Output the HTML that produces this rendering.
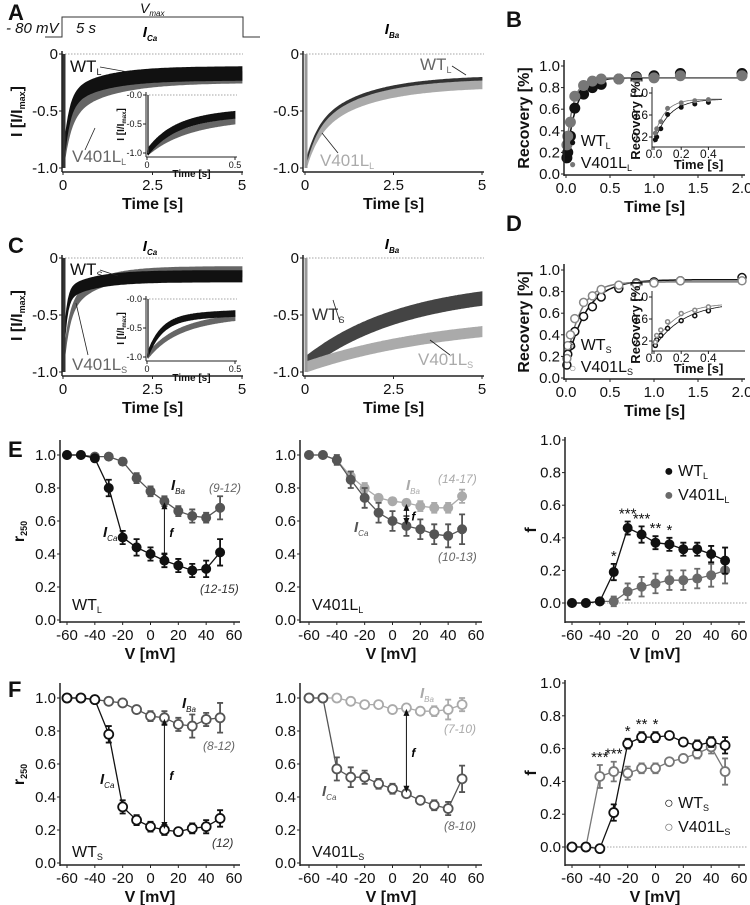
<!DOCTYPE html>
<html><head><meta charset="utf-8">
<style>
html,body{margin:0;padding:0;background:#fff;}
svg{display:block;font-family:"Liberation Sans",sans-serif;}
.tk{font-size:15px;fill:#111;}
.tks{font-size:9px;fill:#111;}
.tkm{font-size:12px;fill:#111;}
.ttl{font-size:16px;font-weight:bold;fill:#111;}
.ttls{font-size:10px;font-weight:bold;fill:#111;}
.ttlm{font-size:13px;font-weight:bold;fill:#111;}
.pl{font-size:22px;font-weight:bold;fill:#111;}
.ann{font-size:12px;font-style:italic;}
</style></head><body>
<svg id="fig" width="750" height="905" viewBox="0 0 750 905" xmlns="http://www.w3.org/2000/svg">
<g>
<polyline points="45,37 62,37 62,17 243,17 243,37 260,37" fill="none" stroke="#333" stroke-width="1"/>
<text x="6" y="33" font-size="15" font-style="italic" fill="#111">- 80 mV</text>
<text x="76" y="33" font-size="15" font-style="italic" fill="#111">5 s</text>
<text x="140" y="13" font-size="14" font-style="italic" fill="#111">V<tspan font-size="8" dy="3">max</tspan></text>
</g>
</svg>
<script>
// ---------- data ----------
const voltages=[-60,-50,-40,-30,-20,-10,0,10,20,30,40,50];
const eWtBa=[1.0,1.0,0.99,0.99,0.96,0.86,0.78,0.72,0.66,0.63,0.62,0.68];
const eWtBaErr=[0.01,0.01,0.01,0.01,0.02,0.03,0.03,0.03,0.03,0.04,0.03,0.07];
const eWtCa=[1.0,1.0,0.98,0.80,0.50,0.44,0.40,0.36,0.33,0.30,0.31,0.41];
const eWtCaErr=[0.01,0.01,0.01,0.05,0.04,0.05,0.04,0.04,0.04,0.04,0.05,0.08];
const eMuBa=[1.0,1.0,0.97,0.87,0.80,0.74,0.72,0.71,0.69,0.68,0.68,0.75];
const eMuBaErr=[0.01,0.01,0.02,0.03,0.03,0.02,0.02,0.02,0.03,0.03,0.03,0.04];
const eMuCa=[1.0,1.0,0.97,0.85,0.74,0.65,0.60,0.57,0.55,0.52,0.51,0.55];
const eMuCaErr=[0.01,0.01,0.03,0.05,0.06,0.06,0.06,0.06,0.06,0.06,0.07,0.09];
const eFWt=[0,0,0.01,0.19,0.46,0.42,0.37,0.36,0.33,0.33,0.30,0.26];
const eFWtErr=[0.01,0.01,0.02,0.05,0.04,0.05,0.04,0.04,0.04,0.04,0.05,0.08];
const eFMu=[0,0,0.01,0.01,0.07,0.10,0.12,0.14,0.14,0.15,0.17,0.20];
const eFMuErr=[0.01,0.01,0.02,0.03,0.05,0.06,0.06,0.06,0.06,0.06,0.07,0.08];
const eStars=["","","","*","***","***","**","*","","","",""];
const fWtBa=[1.0,1.0,0.99,0.98,0.97,0.93,0.89,0.88,0.84,0.83,0.87,0.88];
const fWtBaErr=[0.01,0.01,0.01,0.02,0.01,0.02,0.03,0.04,0.04,0.07,0.04,0.09];
const fWtCa=[1.0,1.0,0.99,0.78,0.34,0.26,0.22,0.20,0.19,0.21,0.22,0.27];
const fWtCaErr=[0.01,0.01,0.01,0.05,0.04,0.03,0.03,0.03,0.02,0.03,0.04,0.05];
const fMuBa=[1.0,1.0,1.0,0.98,0.96,0.96,0.93,0.94,0.92,0.92,0.93,0.96];
const fMuBaErr=[0.01,0.01,0.01,0.02,0.01,0.01,0.01,0.02,0.02,0.03,0.06,0.04];
const fMuCa=[1.0,1.0,0.57,0.52,0.52,0.48,0.45,0.42,0.38,0.35,0.33,0.51];
const fMuCaErr=[0.01,0.01,0.07,0.06,0.04,0.03,0.03,0.02,0.02,0.03,0.04,0.08];
const fFWt=[0,0,-0.01,0.21,0.63,0.67,0.67,0.68,0.64,0.62,0.64,0.62];
const fFWtErr=[0.01,0.01,0.01,0.05,0.03,0.03,0.03,0.02,0.02,0.03,0.03,0.05];
const fFMu=[0,0,0.43,0.46,0.45,0.48,0.48,0.52,0.54,0.57,0.61,0.46];
const fFMuErr=[0.01,0.01,0.07,0.06,0.04,0.03,0.03,0.02,0.02,0.03,0.04,0.08];
const fStars=["","","***","***","*","**","*","","","","",""];
const recTimes=[0.01,0.02,0.05,0.1,0.2,0.3,0.4,0.6,0.8,1.0,1.3,2.0];
const recWtL=[0.15,0.20,0.35,0.61,0.74,0.80,0.83,0.88,0.90,0.91,0.93,0.93];
const recMuL=[0.27,0.35,0.48,0.72,0.82,0.86,0.88,0.88,0.89,0.89,0.91,0.91];
const recWtS=[0.12,0.22,0.30,0.43,0.57,0.66,0.75,0.83,0.88,0.89,0.90,0.93];
const recMuS=[0.18,0.30,0.40,0.55,0.70,0.76,0.82,0.86,0.87,0.88,0.90,0.90];
// fit params [plateau, start, tau]
const fitWtL=[0.89,0.10,0.11];const fitMuL=[0.89,0.20,0.08];
const fitWtS=[0.91,0.08,0.22];const fitMuS=[0.89,0.12,0.16];
// trace params [steady, fastFrac, tauFast, tauSlow, halfWidth, start]
const trAWt=[0.17,0.7,0.15,1.0,0.06,1.0];const trAMu=[0.2,0.6,0.2,1.2,0.05,1.0];
const trABaWt=[0.2,0.4,0.3,1.5,0.012,1.0];const trABaMu=[0.24,0.4,0.35,1.6,0.045,1.0];
const trCWt=[0.16,0.8,0.08,0.8,0.05,1.0];const trCMu=[0.12,0.6,0.15,0.8,0.045,1.0];
const trCBaWt=[0.24,0.0,0.1,2.8,0.06,0.93];const trCBaMu=[0.52,0.0,0.1,4.0,0.045,0.96];
const tickV=[-60,-40,-20,0,20,40,60];
const tickR=[0,0.2,0.4,0.6,0.8,1.0];
// ---------- helpers ----------
const NS="http://www.w3.org/2000/svg";const fig=document.getElementById('fig');
function mk(tag,at,par){const e=document.createElementNS(NS,tag);for(const k in at)e.setAttribute(k,at[k]);(par||fig).appendChild(e);return e;}
function txt(s,x,y,cls,anchor,par,extra){const e=mk('text',Object.assign({x:x,y:y,'class':cls,'text-anchor':anchor||'middle'},extra||{}),par);e.innerHTML=s;return e;}
function lin(a,b,c,d){return (v)=>c+(v-a)*(d-c)/(b-a);}
function axes(g,o){
  const X=o.X,Y=o.Y;
  const tc=o.tkc||(o.small?'tks':'tk'),ttc=o.ttc||(o.small?'ttls':'ttl');
  const dyY=o.dyY||(o.small?3:5),dyX=o.dyX||(o.small?11:18),dyT=o.dyT||(o.small?20:37);
  let e=mk('line',{x1:o.ax,y1:o.yTop,x2:o.ax,y2:o.yBot,stroke:'#222','stroke-width':o.sw||1.5},g);
  
  
  e=mk('line',{x1:o.ax,y1:o.xAxY,x2:o.xEnd,y2:o.xAxY,stroke:'#222','stroke-width':o.sw||1.5},g);
  
  
  o.yt.forEach((v,i)=>{mk('line',{x1:o.ax-3,y1:Y(v),x2:o.ax,y2:Y(v),stroke:'#222'},g);
    const t=txt(o.ytl[i],o.ax-4,Y(v)+dyY,tc,'end',g);
    
    });
  o.xt.forEach((v,i)=>{mk('line',{x1:X(v),y1:o.xAxY,x2:X(v),y2:o.xAxY+3,stroke:'#222'},g);
    const t=txt(o.xtl[i],X(v),o.xAxY+dyX,tc,'middle',g);
    
    });
  if(o.xtitle){const t=txt(o.xtitle,(o.ax+o.xEnd)/2,o.xAxY+dyT,ttc,'middle',g);
    
    }
  if(o.ytitle){const yc=(o.yTop+o.yBot)/2;const t=txt(o.ytitle,o.ytx,yc,ttc,'middle',g,{transform:'rotate(-90 '+o.ytx+' '+yc+')'});
    
    }
}
function trVal(p,t){return -(p[0]+(p[5]-p[0])*(p[1]*Math.exp(-t/p[2])+(1-p[1])*Math.exp(-t/p[3])));}
function band(g,p,X,Y,tmax,col,name){
  const up=[],dn=[];const n=120;
  for(let i=0;i<=n;i++){const t=0.02*tmax/5+i*(tmax-0.02*tmax/5)/n;const v=trVal(p,t);const w=p[4]*(i==0?0.3:1);
    up.push(X(t).toFixed(1)+','+Y(v+w).toFixed(1));dn.unshift(X(t).toFixed(1)+','+Y(v-w).toFixed(1));}
  const e=mk('polygon',{points:up.concat(dn).join(' '),fill:col,stroke:col,'stroke-width':0.8},g);
  
  
}
function tracePanel(o){
  const g=mk('g',{});
  
  
  const X=lin(0,o.tmax,o.x0,o.x1),Y=lin(0,-1,o.y0,o.y1);
  mk('line',{x1:o.ax,y1:o.y0,x2:o.xEnd,y2:o.y0,stroke:'#888','stroke-dasharray':'1.5,1.5','stroke-width':0.8},g);
  o.traces.forEach(tr=>band(g,tr[0],X,Y,o.tmax,tr[1],tr[2]));
  mk('line',{x1:X(0)+1,y1:o.y0,x2:X(0)+1,y2:o.y1,stroke:o.spike,'stroke-width':o.small?1.5:3},g);
  axes(g,{X:X,Y:Y,ax:o.ax,yTop:o.y0-3,yBot:o.y1+4,xAxY:o.y1+4,xEnd:o.xEnd,yt:[0,-0.5,-1],ytl:o.small?['-0.0','-0.5','-1.0']:['0','-0.5','-1.0'],
    xt:o.small?[0,0.5]:[0,2.5,5],xtl:o.small?['0','0.5']:['0','2.5','5'],xtitle:'Time [s]',ytitle:o.ytitle,ytx:o.ytx,small:o.small,sw:o.small?1:1.5});
  return g;
}
function recPanel(o){
  const g=mk('g',{});
  
  
  const X=lin(0,o.tmax,o.x0,o.x1),Y=lin(0,1,o.y0,o.y1);
  o.fits.forEach(f=>{const pts=[];for(let i=0;i<=100;i++){const t=i*o.tmax/100;pts.push(X(t).toFixed(1)+','+Y(f[0][0]-(f[0][0]-f[0][1])*Math.exp(-t/f[0][2])).toFixed(1));}
    const e=mk('polyline',{points:pts.join(' '),fill:'none',stroke:f[1],'stroke-width':o.small?0.8:1.5},g);
    
    });
  o.series.forEach(s=>{recTimes.forEach((t,i)=>{if(t>o.tmax)return;
    const c=mk('circle',{cx:X(t),cy:Y(s[0][i]),r:o.small?2:(o.open?4:5),fill:o.open?'#fff':s[1],stroke:s[1],'stroke-width':o.open?1.5:1},g);
    
    });});
  axes(g,{X:X,Y:Y,ax:o.ax,yTop:o.y1-6,yBot:o.y0+2,xAxY:o.y0+(o.small?-1:1),xEnd:o.xEnd,yt:o.small?[0.2,0.6,1.0]:[0,0.2,0.4,0.6,0.8,1.0],ytl:o.small?['0.2','0.6','1.0']:['0.0','0.2','0.4','0.6','0.8','1.0'],
    xt:o.small?[0,0.2,0.4]:[0,0.5,1,1.5,2],xtl:o.small?['0.0','0.2','0.4']:['0.0','0.5','1.0','1.5','2.0'],xtitle:'Time [s]',ytitle:'Recovery [%]',ytx:o.ytx,small:o.small,sw:o.small?1:1.5,
    tkc:o.small?'tkm':'tk',ttc:o.small?'ttlm':'ttl',dyY:o.small?4:5,dyX:o.small?11:18,dyT:o.small?22:37});
  return g;
}
function ivPanel(o){
  const g=mk('g',{});
  
  
  const X=lin(-60,60,o.x0,o.x1),Y=lin(0,1,o.y0,o.y1);
  if(o.dotted){mk('line',{x1:o.ax,y1:Y(0),x2:o.x1+8,y2:Y(0),stroke:'#888','stroke-dasharray':'1.5,1.5','stroke-width':0.8},g);}
  o.series.forEach(s=>{const vals=s[0],err=s[1],col=s[2];
    const pts=voltages.map((v,i)=>X(v).toFixed(1)+','+Y(vals[i]).toFixed(1)).join(' ');
    let e=mk('polyline',{points:pts,fill:'none',stroke:col,'stroke-width':1.3},g);
    
    
    voltages.forEach((v,i)=>{const x=X(v),yt=Y(vals[i]+err[i]),yb=Y(vals[i]-err[i]);
      mk('path',{d:'M'+x+','+yt+'V'+yb+'M'+(x-3)+','+yt+'h6M'+(x-3)+','+yb+'h6',stroke:col,'stroke-width':1.8,fill:'none'},g);
      const c=mk('circle',{cx:x,cy:Y(vals[i]),r:4.5,fill:o.open?'#fff':col,stroke:col,'stroke-width':o.open?1.8:1},g);
      
      });
  });
  if(o.stars){o.stars.forEach((st,i)=>{if(!st)return;const top=Math.max(o.starSrc[0][i]+o.starSrc[1][i],o.starAlt?o.starAlt[0][i]+o.starAlt[1][i]:0);
    const t=txt(st,X(voltages[i]),Y(top)-3,'tk','middle',g);
    
    });}
  if(o.arrow){const v=o.arrow[0],a=o.arrow[1],b=o.arrow[2];const x=X(v),ya=Y(a),yb=Y(b);
    mk('line',{x1:x,y1:ya+6,x2:x,y2:yb-6,stroke:'#111','stroke-width':1},g);
    mk('polygon',{points:x+','+(ya+1)+' '+(x-3)+','+(ya+8)+' '+(x+3)+','+(ya+8),fill:'#111'},g);
    mk('polygon',{points:x+','+(yb-1)+' '+(x-3)+','+(yb-8)+' '+(x+3)+','+(yb-8),fill:'#111'},g);
    const t=txt('f',x+5,(ya+yb)/2+6,'ann','start',g,{'font-size':'17','font-weight':'bold'});
    
    }
  axes(g,{X:X,Y:Y,ax:o.ax,yTop:o.yTop,yBot:o.xAxY+1,xAxY:o.xAxY,xEnd:o.x1+6,yt:tickR,ytl:tickR.map(v=>v.toFixed(1)),
    xt:tickV,xtl:tickV.map(String),xtitle:'V [mV]',ytitle:o.ytitle,ytx:o.ytx,sw:1.5});
  (o.labels||[]).forEach(l=>{const t=txt(l[0],l[1],l[2],l[3],'start',g,{fill:l[4]||'#111'});
    
    });
  return g;
}
// ---------- panels ----------
const G='#666',LG='#aaa',DG='#555';
[['A',8,20],['B',506,27],['C',8,253],['D',506,231],['E',8,457],['F',8,697]].forEach(p=>{const t=txt(p[0],p[1],p[2],'pl','start');
  
  });
function condTitle(s,sb,x,y,name){const t=txt('<tspan font-weight="bold" font-style="italic" font-size="15">'+s+'</tspan><tspan font-size="8" font-weight="bold" font-style="italic" dy="4">'+sb+'</tspan>',x,y,'','middle');
  
  }
condTitle('I','Ca',150,37,'ica-title-a');condTitle('I','Ba',392,34,'iba-title-a');
condTitle('I','Ca',150,251,'ica-title-c');condTitle('I','Ba',392,249,'iba-title-c');
[0,204].forEach((dy,k)=>{
  tracePanel({name:'trace-ica-'+(k?'c':'a'),tmax:5,x0:63,x1:242,y0:54+dy,y1:168+dy,ax:62,xEnd:243,spike:'#333',
    traces:k?[[trCMu,G,'v401l-band'],[trCWt,'#111','wt-band']]:[[trAMu,G,'v401l-band'],[trAWt,'#111','wt-band']],ytitle:'I [I/I<tspan font-size="9" dy="3">max</tspan><tspan dy="-3">]</tspan>',ytx:22});
  tracePanel({name:'trace-ica-inset-'+(k?'c':'a'),tmax:0.5,x0:147,x1:235,y0:95+dy,y1:153+dy,ax:146,xEnd:237,spike:'#444',small:true,
    traces:k?[[trCMu,G,'v401l-band'],[trCWt,'#111','wt-band']]:[[trAMu,G,'v401l-band'],[trAWt,'#111','wt-band']],ytitle:'I [I/I<tspan font-size="6" dy="2">max</tspan><tspan dy="-2">]</tspan>',ytx:124});
  tracePanel({name:'trace-iba-'+(k?'c':'a'),tmax:5,x0:305,x1:482,y0:54+dy,y1:168+dy,ax:303,xEnd:484,spike:'#999',
    traces:k?[[trCBaWt,'#444','wt-band'],[trCBaMu,LG,'v401l-band']]:[[trABaMu,LG,'v401l-band'],[trABaWt,'#333','wt-band']]});
  recPanel({name:'recovery-'+(k?'d':'b'),tmax:2,x0:566,x1:742,y0:174+dy,y1:66+dy,ax:564,xEnd:745,open:k==1,ytx:529,
    fits:k?[[fitWtS,'#111'],[fitMuS,'#777']]:[[fitWtL,'#111'],[fitMuL,'#777']],series:k?[[recWtS,'#111','wt-point'],[recMuS,'#888','v401l-point']]:[[recWtL,'#111','wt-point'],[recMuL,'#777','v401l-point']]});
  recPanel({name:'recovery-inset-'+(k?'d':'b'),tmax:0.5,x0:654,x1:722,y0:148+dy,y1:93+dy,ax:652,xEnd:745,small:true,open:k==1,ytx:640,
    fits:k?[[fitWtS,'#111'],[fitMuS,'#777']]:[[fitWtL,'#111'],[fitMuL,'#777']],series:k?[[recWtS,'#111','wt-point'],[recMuS,'#888','v401l-point']]:[[recWtL,'#111','wt-point'],[recMuL,'#777','v401l-point']]});
});
// trace labels
[['WT'+'<tspan font-size="9" dy="3">L</tspan>',70,72,'#111'],['V401L<tspan font-size="9" dy="3">L</tspan>',72,162,G],['WT<tspan font-size="9" dy="3">L</tspan>',420,70,G],['V401L<tspan font-size="9" dy="3">L</tspan>',320,166,LG],
 ['WT<tspan font-size="9" dy="3">S</tspan>',70,275,'#111'],['V401L<tspan font-size="9" dy="3">S</tspan>',72,370,G],['WT<tspan font-size="9" dy="3">S</tspan>',312,320,'#333'],['V401L<tspan font-size="9" dy="3">S</tspan>',418,365,LG]].forEach(l=>{
  const t=txt(l[0],l[1],l[2],'','start',null,{'font-size':'17',fill:l[3]});
  
  });
[[100,67,128,72],[85,150,95,128],[452,66,466,75],[338,153,322,133],[100,270,118,276],[88,355,76,303],[340,322,333,300],[450,355,430,340]].forEach(p=>{
  const e=mk('line',{x1:p[0],y1:p[1],x2:p[2],y2:p[3],stroke:'#222','stroke-width':0.8});
  
  });
// legends B/D
[[569,146,'●','WT<tspan font-size="9" dy="3">L</tspan>','#111'],[569,168,'●','V401L<tspan font-size="9" dy="3">L</tspan>','#777'],
 [569,350,'○','WT<tspan font-size="9" dy="3">S</tspan>','#111'],[569,372,'○','V401L<tspan font-size="9" dy="3">S</tspan>','#888']].forEach(l=>{
  const t=txt('<tspan fill="'+l[4]+'" font-size="12">'+l[2]+'</tspan> '+l[3],l[0],l[1],'','start',null,{'font-size':'16',fill:'#111'});
  
  });
function ion(s,c,x,y,col){return ['<tspan font-weight="bold" font-size="15">'+s+'</tspan><tspan font-size="8" dy="4">'+c+'</tspan>',x,y,'ann',col,'ion-label'];}
// E row
ivPanel({name:'r250-wt-l',x0:67,x1:234,y0:620,y1:455,ax:60,yTop:440,xAxY:622,ytitle:'r<tspan font-size="9" dy="3">250</tspan>',ytx:24,
  series:[[eWtBa,eWtBaErr,DG,'iba'],[eWtCa,eWtCaErr,'#111','ica']],arrow:[10,eWtBa[7],eWtCa[7]],
  labels:[ion('I','Ba',171,490,'#111'),ion('I','Ca',103,537,'#111'),['(9-12)',209,492,'ann',G,'n-label'],['(12-15)',200,593,'ann','#333','n-label'],['WT<tspan font-size="9" dy="3">L</tspan>',72,610,'','#111','genotype-label']]});
ivPanel({name:'r250-v401l-l',x0:309,x1:476,y0:620,y1:455,ax:300,yTop:440,xAxY:622,
  series:[[eMuBa,eMuBaErr,LG,'iba'],[eMuCa,eMuCaErr,DG,'ica']],arrow:[10,eMuBa[7],eMuCa[7]],
  labels:[ion('I','Ba',406,490,LG),ion('I','Ca',354,532,DG),['(14-17)',438,483,'ann',LG,'n-label'],['(10-13)',438,561,'ann',G,'n-label'],['V401L<tspan font-size="9" dy="3">L</tspan>',312,610,'','#111','genotype-label']]});
ivPanel({name:'f-long',x0:572,x1:739,y0:603,y1:440,ax:565,yTop:437,xAxY:622,dotted:true,ytitle:'f',ytx:536,
  series:[[eFMu,eFMuErr,'#6a6a6a','v401l'],[eFWt,eFWtErr,'#111','wt']],stars:eStars,starSrc:[eFWt,eFWtErr],
  labels:[['<tspan fill="#111">●</tspan> WT<tspan font-size="9" dy="3">L</tspan>',664,476,'','#111','legend-entry'],['<tspan fill="#6a6a6a">●</tspan> V401L<tspan font-size="9" dy="3">L</tspan>',664,500,'','#111','legend-entry']]});
// F row
ivPanel({name:'r250-wt-s',x0:67,x1:234,y0:863,y1:698,ax:60,yTop:683,xAxY:865,ytitle:'r<tspan font-size="9" dy="3">250</tspan>',ytx:24,open:true,
  series:[[fWtBa,fWtBaErr,DG,'iba'],[fWtCa,fWtCaErr,'#111','ica']],arrow:[10,fWtBa[7],fWtCa[7]],
  labels:[ion('I','Ba',182,708,'#111'),ion('I','Ca',100,784,'#111'),['(8-12)',203,750,'ann',G,'n-label'],['(12)',212,847,'ann','#333','n-label'],['WT<tspan font-size="9" dy="3">S</tspan>',72,857,'','#111','genotype-label']]});
ivPanel({name:'r250-v401l-s',x0:309,x1:476,y0:863,y1:698,ax:300,yTop:683,xAxY:865,open:true,
  series:[[fMuBa,fMuBaErr,LG,'iba'],[fMuCa,fMuCaErr,DG,'ica']],arrow:[10,fMuBa[7],fMuCa[7]],
  labels:[ion('I','Ba',420,698,LG),ion('I','Ca',322,796,DG),['(7-10)',444,733,'ann',LG,'n-label'],['(8-10)',444,830,'ann',G,'n-label'],['V401L<tspan font-size="9" dy="3">S</tspan>',312,857,'','#111','genotype-label']]});
ivPanel({name:'f-short',x0:572,x1:739,y0:847,y1:683,ax:565,yTop:680,xAxY:865,dotted:true,ytitle:'f',ytx:536,open:true,
  series:[[fFMu,fFMuErr,'#777','v401l'],[fFWt,fFWtErr,'#111','wt']],stars:fStars,starSrc:[fFWt,fFWtErr],starAlt:[fFMu,fFMuErr],
  labels:[['<tspan fill="#111">○</tspan> WT<tspan font-size="9" dy="3">S</tspan>',664,808,'','#111','legend-entry'],['<tspan fill="#777">○</tspan> V401L<tspan font-size="9" dy="3">S</tspan>',664,832,'','#111','legend-entry']]});
</script>
</body></html>
